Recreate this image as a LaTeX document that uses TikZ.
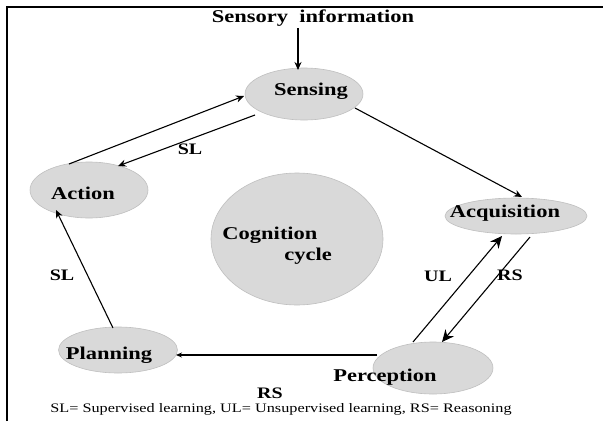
\documentclass[tikz,border=0pt]{standalone}
\usepackage{fontspec}
\usepackage{graphicx}
\setmainfont{Liberation Serif}
\usetikzlibrary{arrows.meta,shapes.geometric}
\newcommand{\widetxt}[1]{\scalebox{1.25}[1]{#1}}
\begin{document}
\begin{tikzpicture}[x=1pt,y=-1pt,
  blob/.style={ellipse,fill=black!15,draw=black!25,line width=0.6pt,inner sep=0pt},
  lbl/.style={font=\bfseries\fontsize{18}{20}\selectfont,inner sep=0pt},
  elbl/.style={font=\bfseries\fontsize{16}{18}\selectfont,inner sep=0pt},
  conn/.style={line width=1.1pt,-{Stealth[length=8pt,width=7pt]}},
  bigconn/.style={line width=1.1pt,-{Stealth[length=12pt,width=11pt]}}]
\useasboundingbox (0,0) rectangle (603,421);
\draw[line width=1.4pt] (7,421) -- (7,7) -- (603,7);
% nodes
\node[blob,minimum width=118pt,minimum height=52pt] (sens) at (304,94) {};
\node[lbl] at (311,91) {\widetxt{Sensing}};
\node[blob,minimum width=118pt,minimum height=56pt] (act) at (89,190) {};
\node[lbl] at (83,193) {\widetxt{Action}};
\node[blob,minimum width=142pt,minimum height=36pt] (acq) at (516,216) {};
\node[lbl] at (505,213) {\widetxt{Acquisition}};
\node[blob,minimum width=172pt,minimum height=132pt] (cog) at (297,239) {};
\node[lbl] at (270,235) {\widetxt{Cognition}};
\node[lbl] at (308,256) {\widetxt{cycle}};
\node[blob,minimum width=119pt,minimum height=46pt] (plan) at (118,350) {};
\node[lbl] at (109,355) {\widetxt{Planning}};
\node[blob,minimum width=120pt,minimum height=52pt] (perc) at (433,368) {};
\node[lbl] at (385,377) {\widetxt{Perception}};
\node[lbl] (sinfo) at (313,18) {\widetxt{Sensory\ \ information}};
% coordinates
\coordinate (a1) at (69,164);
\coordinate (s1) at (244,96);
\coordinate (s2) at (255,115);
\coordinate (a2) at (118,166);
\coordinate (s3) at (355,108);
\coordinate (q1) at (522,197);
\coordinate (p1) at (413,342);
\coordinate (q2) at (502,236);
\coordinate (q3) at (530,237);
\coordinate (p2) at (442,342);
\coordinate (p3) at (377,355);
\coordinate (l1) at (176,355);
\coordinate (l2) at (113,328);
\coordinate (a3) at (56,210);
\coordinate (t1) at (298,28);
\coordinate (t2) at (298,70);
% connectors
\draw[conn] (t1) -- (t2);
\draw[conn] (a1) -- (s1);
\draw[conn] (s2) -- (a2);
\draw[conn] (s3) -- (q1);
\draw[bigconn] (p1) -- (q2);
\draw[bigconn] (q3) -- (p2);
\draw[conn,-{Stealth[length=6pt,width=5pt]}] (p3) -- (l1);
\draw[conn] (l2) -- (a3);
% labels
\node[elbl] at (190,149) {\widetxt{SL}};
\node[elbl] at (62,275) {\widetxt{SL}};
\node[elbl] at (438,276) {\widetxt{UL}};
\node[elbl] at (510,275) {\widetxt{RS}};
\node[elbl] at (270,393) {\widetxt{RS}};
\node[font=\fontsize{13}{15}\selectfont,inner sep=0pt] (foot) at (281,409) {\widetxt{SL= Supervised learning, UL= Unsupervised learning, RS= Reasoning}};
\end{tikzpicture}
\end{document}
